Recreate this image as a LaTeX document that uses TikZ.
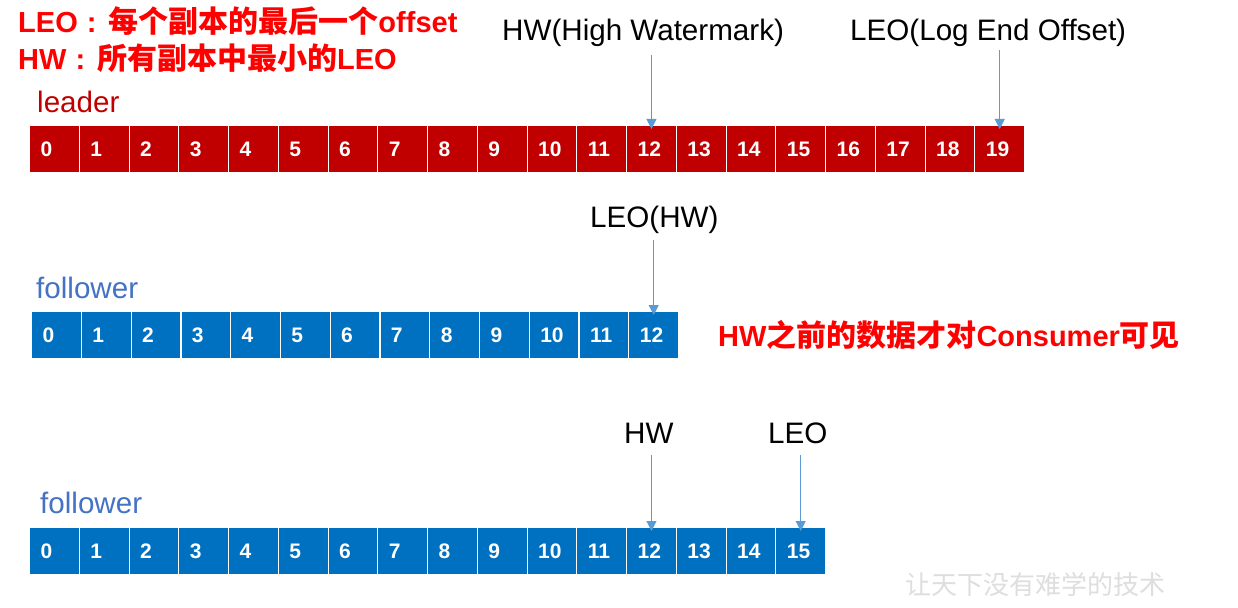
\documentclass[tikz,border=0pt]{standalone}
\usepackage{fontspec}
\setmainfont{Liberation Sans}
\newfontfamily\cjk{Noto Sans CJK SC}
\usetikzlibrary{arrows.meta,calc}
\definecolor{titlered}{RGB}{255,0,0}
\definecolor{leadred}{RGB}{192,0,0}
\definecolor{folblue}{RGB}{0,112,192}
\definecolor{labblue}{RGB}{68,114,196}
\definecolor{arrblue}{RGB}{91,155,213}
\definecolor{wm}{RGB}{222,222,222}
\tikzset{
  cell/.style={draw=white, line width=1.2pt, text=white,
    font=\fontsize{21}{21}\selectfont\bfseries, inner xsep=11pt, inner ysep=0pt,
    text width=27.75pt, align=left, minimum height=47pt, anchor=north west,
    text height=15pt, text depth=0pt},
  leadcell/.style={cell, fill=leadred},
  folcell/.style={cell, fill=folblue},
  ptr/.style={draw=arrblue, line width=1pt, shorten >=-4pt, -{Triangle[width=10pt,length=10pt]}},
  lbl/.style={inner sep=0pt, anchor=base west, font=\fontsize{29.6}{29.6}\selectfont},
  ttl/.style={inner sep=0pt, anchor=base west, text=titlered, font=\fontsize{29}{29}\selectfont\bfseries}
}
\newcommand{\cjkbig}{\cjk\fontsize{30}{30}\selectfont\bfseries}
\newcommand{\wcolon}{\hspace{9pt}:\hspace{12pt}}
\begin{document}
\begin{tikzpicture}[x=1pt,y=-1pt]
\useasboundingbox[fill=white] (0,0) rectangle (1238,607);
% titles
\node[ttl] (t1) at (18,33) {LEO\wcolon{\cjkbig 每个副本的最后一个}offset};
\node[ttl] (t2) at (18,70) {HW\wcolon{\cjkbig 所有副本中最小的}LEO};
\node[ttl] (note) at (718,346) {HW{\cjkbig 之前的数据才对}Consumer{\cjkbig 可见}};
% labels
\node[lbl, text=leadred] (leaderlbl) at (37,113) {leader};
\node[lbl, text=labblue] (fol1lbl) at (36,298) {follower};
\node[lbl, text=labblue] (fol2lbl) at (40,513) {follower};
\node[lbl] (hwlbl) at (502,41) {HW(High Watermark)};
\node[lbl] (leolbl) at (850,41) {LEO(Log End Offset)};
\node[lbl] (leohw) at (590,227) {LEO(HW)};
\node[lbl] (hw2) at (624,443) {HW};
\node[lbl] (leo2) at (768,443) {LEO};
% rows
\foreach \i in {0,...,19} \node[leadcell] (L\i) at ({29+\i*49.75},125) {\i};
\foreach \i in {0,...,12} \node[folcell] (F\i) at ({31+\i*49.77},311) {\i};
\foreach \i in {0,...,15} \node[folcell] (G\i) at ({29+\i*49.75},527) {\i};
% pointers
\coordinate (p1) at ($(L12.north)+(0,-70)$);
\coordinate (p2) at ($(L19.north)+(0,-75)$);
\coordinate (p3) at ($(F12.north)+(0,-71)$);
\coordinate (p4) at ($(G12.north)+(0,-72)$);
\coordinate (p5) at ($(G15.north)+(0,-72)$);
\draw[ptr] (p1) -- (L12.north);
\draw[ptr] (p2) -- (L19.north);
\draw[ptr] (p3) -- (F12.north);
\draw[ptr] (p4) -- (G12.north);
\draw[ptr] (p5) -- (G15.north);
% watermark
\node[inner sep=0pt, anchor=base west, text=wm, font=\cjk\fontsize{26}{26}\selectfont] (wmark) at (905,594) {让天下没有难学的技术};
\end{tikzpicture}
\end{document}
